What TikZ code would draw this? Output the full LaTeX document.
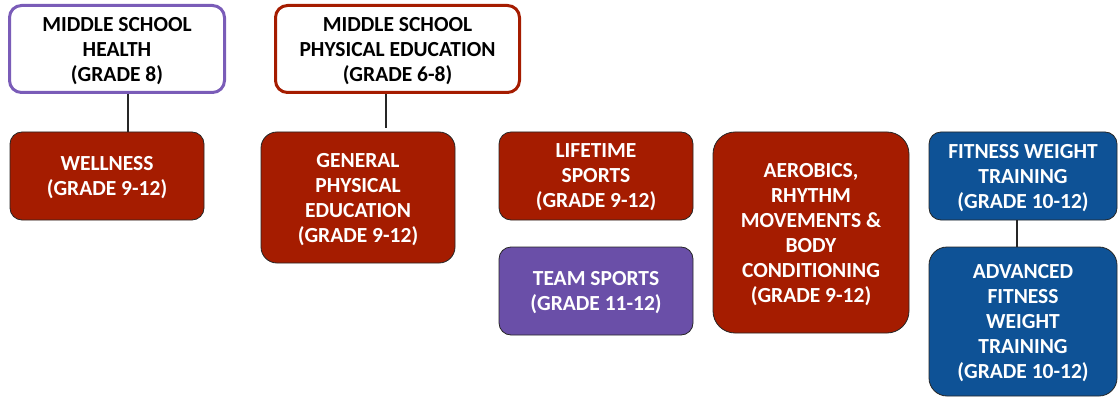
\documentclass[tikz,border=0pt]{standalone}
\usepackage{fontspec}
\setmainfont{Carlito}
\usepackage{xcolor}
\usepackage{tikz}
\usetikzlibrary{scopes}

\definecolor{pered}{RGB}{165,28,0}
\definecolor{hpurple}{RGB}{122,92,184}
\definecolor{tspurple}{RGB}{106,79,168}
\definecolor{fitblue}{RGB}{14,82,150}

\begin{document}
\begin{tikzpicture}[x=1pt,y=-1pt,
      box/.style={rounded corners=12pt,align=center,inner sep=0pt,
                  font=\fontsize{21.5}{25}\selectfont\bfseries,text depth=0pt,
                  execute at begin node={\rule{0pt}{22pt}}},
      ms/.style={box,fill=white,line width=3pt,text=black},
      course/.style={box,draw=black!85,line width=0.8pt,text=white},
      link/.style={draw=black!85,line width=1.2pt}
]
      \useasboundingbox (0,0) rectangle (1118,398);
      % middle school
      \node[ms,draw=hpurple,minimum width=215pt,minimum height=87pt] at (117,49) (health)
            {MIDDLE SCHOOL\\HEALTH\\(GRADE 8)};
      \node[ms,draw=pered,minimum width=244pt,minimum height=87pt] at (397.5,49) (mspe)
            {MIDDLE SCHOOL\\PHYSICAL EDUCATION\\(GRADE 6-8)};
      % high school courses
      \node[course,fill=pered,minimum width=194pt,minimum height=88pt] at (107,176) (well)
            {WELLNESS\\(GRADE 9-12)};
      \node[course,fill=pered,rounded corners=16pt,minimum width=194pt,minimum height=131pt] at (358,197.5) (gpe)
            {GENERAL\\PHYSICAL\\EDUCATION\\(GRADE 9-12)};
      \node[course,fill=pered,minimum width=194pt,minimum height=88pt] at (596,176) (life)
            {LIFETIME\\SPORTS\\(GRADE 9-12)};
      \node[course,fill=tspurple,minimum width=194pt,minimum height=88pt] at (596,291) (team)
            {TEAM SPORTS\\(GRADE 11-12)};
      \node[course,fill=pered,rounded corners=22pt,minimum width=196pt,minimum height=201pt] at (811,232.5) (aero)
            {AEROBICS,\\RHYTHM\\MOVEMENTS \&\\BODY\\CONDITIONING\\(GRADE 9-12)};
      \node[course,fill=fitblue,minimum width=188pt,minimum height=88pt] at (1023,176) (fwt)
            {FITNESS WEIGHT\\TRAINING\\(GRADE 10-12)};
      \node[course,fill=fitblue,rounded corners=18pt,minimum width=188pt,minimum height=149pt] at (1023,321.5) (afwt)
            {ADVANCED\\FITNESS\\WEIGHT\\TRAINING\\(GRADE 10-12)};
      {[link]
          \draw ([xshift=11pt]health.south) -- ([xshift=11pt]health.south |- well.north);
          \draw ([xshift=-11.5pt]mspe.south) -- ([xshift=-11.5pt,yshift=4pt]mspe.south |- gpe.north);
          \draw ([xshift=-6pt]fwt.south) -- ([xshift=-6pt]fwt.south |- afwt.north);
      }
\end{tikzpicture}
\end{document}
